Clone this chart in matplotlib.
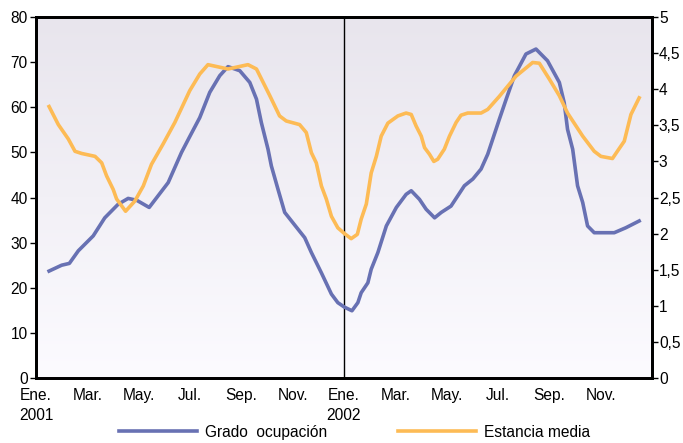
import matplotlib.pyplot as plt
import numpy as np

plt.rcParams['font.family'] = ['Liberation Sans', 'DejaVu Sans']

# months since Jan 2001 (0 = start of Ene. 2001)
grado_x = [0.51, 1.00, 1.30, 1.65, 2.23, 2.68, 3.20, 3.59, 3.92, 4.41, 5.15, 5.67,
           5.99, 6.38, 6.77, 7.16, 7.48, 7.94, 8.33, 8.59, 8.78, 9.04, 9.17, 9.43,
           9.69, 10.01, 10.47, 10.73, 11.12, 11.51, 11.76, 12.02, 12.31, 12.54, 12.67,
           12.93, 13.06, 13.32, 13.65, 14.04, 14.42, 14.62, 14.94, 15.20, 15.53, 15.79,
           16.17, 16.69, 17.02, 17.34, 17.60, 18.05, 18.32, 18.64, 19.09, 19.48, 19.93,
           20.39, 20.58, 20.71, 20.91, 21.10, 21.30, 21.49, 21.75, 22.53, 22.98, 23.50]
grado = [23.7, 25.0, 25.4, 28.2, 31.5, 35.5, 38.5, 39.8, 39.4, 37.8, 43.3, 50.0,
         53.5, 57.7, 63.3, 67.0, 69.0, 68.1, 65.5, 61.8, 56.6, 50.7, 47.0, 41.8,
         36.7, 34.4, 31.1, 27.8, 23.3, 18.6, 16.7, 15.7, 14.9, 16.7, 18.9,
         21.1, 24.1, 27.8, 33.7, 37.8, 40.7, 41.5, 39.6, 37.4, 35.5, 36.7,
         38.1, 42.6, 44.1, 46.3, 49.6, 57.3, 61.8, 67.0, 71.8, 72.9, 70.3,
         65.5, 61.0, 55.1, 50.7, 42.6, 38.9, 33.7, 32.2, 32.2, 33.3, 34.8]

estancia_x = [0.51, 0.87, 1.26, 1.52, 1.78, 2.30, 2.56, 2.75, 3.01, 3.14, 3.49, 3.85,
              4.18, 4.50, 4.95, 5.41, 5.99, 6.38, 6.70, 7.48, 8.26, 8.59, 9.11, 9.49,
              9.75, 10.27, 10.53, 10.73, 10.92, 11.12, 11.31, 11.51, 11.76, 12.02, 12.28,
              12.52, 12.67, 12.87, 13.06, 13.26, 13.45, 13.71, 14.10, 14.42, 14.62, 14.81,
              15.01, 15.14, 15.33, 15.50, 15.65, 15.91, 16.11, 16.37, 16.56, 16.82, 17.34,
              17.60, 18.05, 18.70, 19.35, 19.61, 20.00, 20.39, 20.71, 21.30, 21.75, 22.01,
              22.46, 22.65, 22.92, 23.18, 23.50]
estancia = [3.76, 3.51, 3.31, 3.14, 3.11, 3.07, 2.98, 2.80, 2.61, 2.48, 2.31, 2.45,
            2.66, 2.96, 3.24, 3.54, 3.98, 4.21, 4.34, 4.28, 4.34, 4.28, 3.91, 3.63,
            3.56, 3.51, 3.40, 3.12, 2.98, 2.66, 2.48, 2.24, 2.08, 2.00, 1.93,
            1.99, 2.20, 2.41, 2.84, 3.07, 3.35, 3.53, 3.63, 3.67, 3.65, 3.49,
            3.35, 3.19, 3.10, 3.00, 3.03, 3.17, 3.35, 3.54, 3.64, 3.67, 3.67,
            3.72, 3.90, 4.18, 4.37, 4.36, 4.14, 3.91, 3.67, 3.35, 3.14, 3.07,
            3.04, 3.14, 3.28, 3.65, 3.88]

month_labels = ['Ene.\n2001', 'Mar.', 'May.', 'Jul.', 'Sep.', 'Nov.',
                'Ene.\n2002', 'Mar.', 'May.', 'Jul.', 'Sep.', 'Nov.']
left_ticks = [0, 10, 20, 30, 40, 50, 60, 70, 80]
right_ticks = [0, 0.5, 1, 1.5, 2, 2.5, 3, 3.5, 4, 4.5, 5]
right_labels = ['0', '0,5', '1', '1,5', '2', '2,5', '3', '3,5', '4', '4,5', '5']

blue = '#6871b3'
orange = '#fdbb55'
fs = 11.2

fig = plt.figure(figsize=(6.83, 4.43), dpi=100)
ax = fig.add_axes([0.0527, 0.1467, 0.9019, 0.8149])
ax2 = ax.twinx()

# background gradient
grad = np.linspace(0, 1, 256).reshape(-1, 1)
top_c = np.array([232, 229, 237]) / 255
bot_c = np.array([252, 251, 255]) / 255
img = top_c * (1 - grad[..., None]) + bot_c * grad[..., None]
ax.imshow(img, extent=[0, 24, 0, 80], aspect='auto', zorder=0, origin='upper')

ax.axvline(12, color='black', lw=1.0, zorder=1)
l1, = ax.plot(grado_x, grado, color=blue, lw=2.6, zorder=3, label='Grado  ocupación')
l2, = ax2.plot(estancia_x, estancia, color=orange, lw=2.6, zorder=3, label='Estancia media')

ax.set_xlim(0, 24)
ax.set_ylim(0, 80)
ax2.set_ylim(0, 5)

ax.set_yticks(left_ticks)
ax.set_yticklabels([str(t) for t in left_ticks], fontsize=fs)
ax2.set_yticks(right_ticks)
ax2.set_yticklabels(right_labels, fontsize=fs)

ax.set_xticks(np.arange(0, 24, 2))
ax.set_xticklabels(month_labels, fontsize=fs, linespacing=1.4)
ax.set_xticks([0, 12], minor=True)
ax.tick_params(axis='x', which='major', length=0, pad=7)
ax.tick_params(axis='x', which='minor', length=5, width=1.0, direction='inout')
ax.tick_params(axis='y', length=4, width=1.0, pad=2)
ax2.tick_params(axis='y', length=4, width=1.0, pad=1)

for a in (ax, ax2):
    for s in a.spines.values():
        s.set_linewidth(2.0)
        s.set_color('black')

fig.legend(handles=[l1, l2], loc='center', bbox_to_anchor=(0.519, 0.024), ncol=2,
           frameon=False, fontsize=fs, handlelength=5.0, handletextpad=0.5,
           columnspacing=4.6)

fig.savefig('out.png', dpi=100)
